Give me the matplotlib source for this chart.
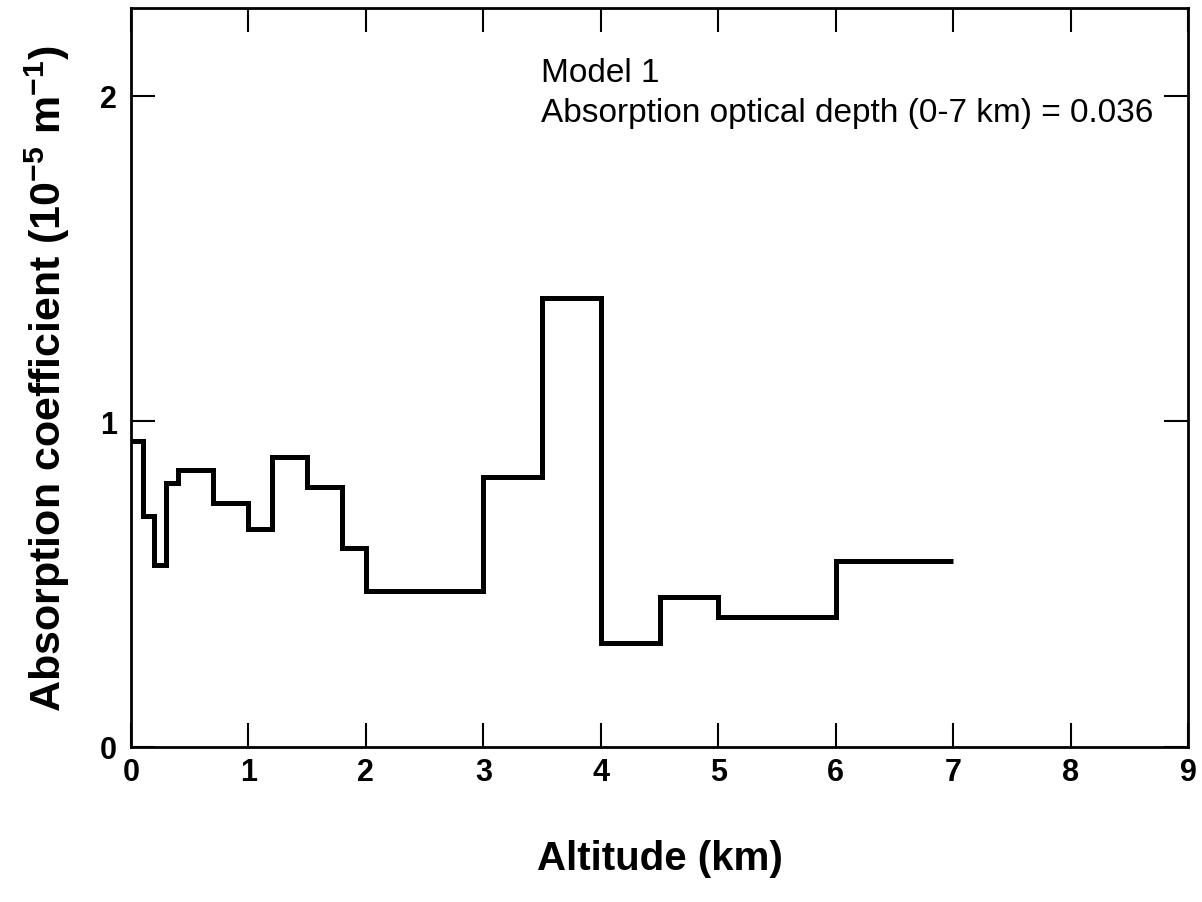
import matplotlib
matplotlib.use("Agg")
import matplotlib.pyplot as plt

# layer edges (km) and absorption coefficient (1e-5 m^-1)
edges = [0, 0.1, 0.2, 0.3, 0.4, 0.7, 1.0, 1.2, 1.5, 1.8, 2.0, 3.0, 3.5, 4.0, 4.5, 5.0, 6.0, 7.0]
absorption = [0.94, 0.71, 0.56, 0.81, 0.85, 0.75, 0.67, 0.89, 0.80, 0.61, 0.48,
              0.83, 1.38, 0.32, 0.46, 0.40, 0.57]
xticks = [0, 1, 2, 3, 4, 5, 6, 7, 8, 9]
yticks = [0, 1, 2]

plt.rcParams['font.family'] = ['Liberation Sans', 'DejaVu Sans']
plt.rcParams['mathtext.fontset'] = 'custom'
plt.rcParams['mathtext.rm'] = 'Liberation Sans:bold'
plt.rcParams['mathtext.default'] = 'rm'

fig = plt.figure(figsize=(12.02, 9.03), dpi=100)
ax = fig.add_axes([131 / 1202, 1 - 748 / 903, (1188 - 131) / 1202, (748 - 9) / 903])

ax.stairs(absorption, edges, color='black', linewidth=3.6, baseline=None)

ax.set_xlim(0, 9)
ax.set_ylim(0, 2.27)
ax.set_xticks(xticks)
ax.set_yticks(yticks)
ax.tick_params(direction='in', length=17, width=1.5, top=True, right=True,
               labelsize=22)
ax.tick_params(axis='x', pad=7)
ax.tick_params(axis='y', pad=10)
for lab in ax.get_xticklabels() + ax.get_yticklabels():
    lab.set_fontweight('bold')
for s in ax.spines.values():
    s.set_linewidth(2)

ax.set_xlabel('Altitude (km)', fontsize=29, fontweight='bold', labelpad=38)
ax.set_ylabel(r'Absorption coefficient (10$^{-5}$ m$^{-1}$)', fontsize=31,
              fontweight='bold', labelpad=20)

ax.text(0.388, 0.913, 'Model 1', transform=ax.transAxes, fontsize=24,
        va='center', ha='left')
ax.text(0.388, 0.859, 'Absorption optical depth (0-7 km) = 0.036',
        transform=ax.transAxes, fontsize=24, va='center', ha='left')

fig.savefig('out.png', dpi=100)
